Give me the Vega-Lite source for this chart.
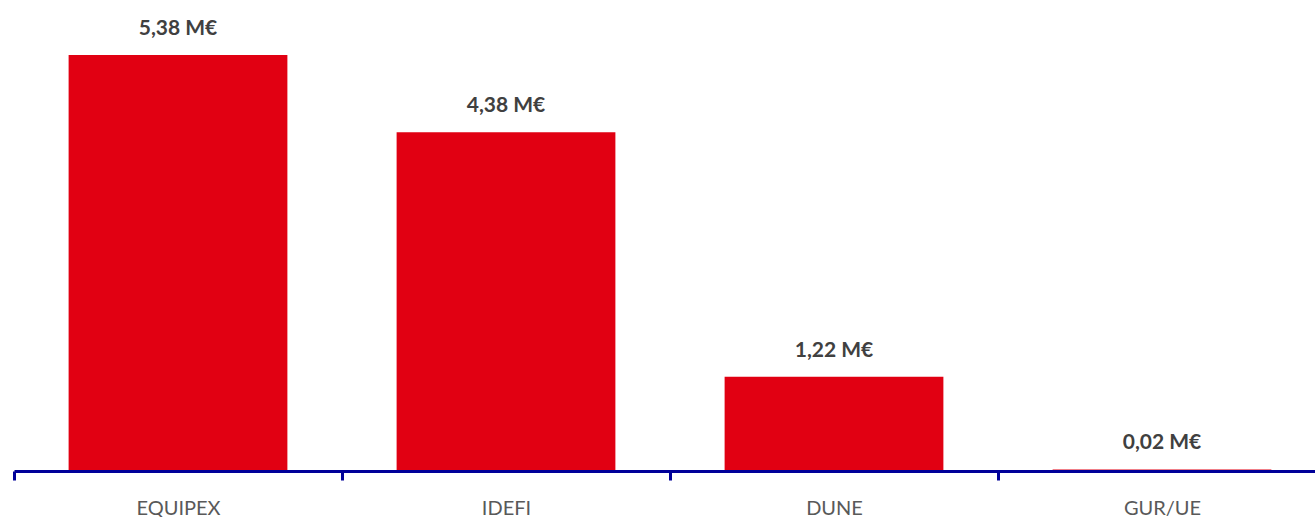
{
  "$schema": "https://vega.github.io/schema/vega-lite/v6.json",
  "width": 1301,
  "height": 471,
  "autosize": {"type": "none"},
  "padding": {"left": 14, "top": 0, "right": 0, "bottom": 46},
  "background": "white",
  "config": {"view": {"stroke": null}, "font": "Lato"},
  "data": {
    "values": [
      {"categorie": "EQUIPEX", "montant": 5.38, "label": "5,38 M€"},
      {"categorie": "IDEFI", "montant": 4.38, "label": "4,38 M€"},
      {"categorie": "DUNE", "montant": 1.22, "label": "1,22 M€"},
      {"categorie": "GUR/UE", "montant": 0.02, "label": "0,02 M€"}
    ]
  },
  "encoding": {
    "x": {
      "field": "categorie",
      "type": "nominal",
      "sort": null,
      "scale": {"range": [0, 1312], "paddingInner": 0, "paddingOuter": 0},
      "axis": {
        "title": null,
        "labelAngle": 0,
        "zindex": 1,
        "domainColor": "#000099",
        "domainWidth": 3,
        "tickColor": "#000099",
        "tickWidth": 3,
        "tickSize": 9,
        "tickBand": "extent",
        "labelFont": "Lato",
        "labelFontSize": 20,
        "labelColor": "#595959",
        "labelBaseline": "alphabetic",
        "labelPadding": 34
      }
    },
    "y": {
      "field": "montant",
      "type": "quantitative",
      "scale": {"domain": [0, 6.09]},
      "axis": null
    }
  },
  "layer": [
    {"mark": {"type": "bar", "color": "#E10012", "width": {"band": 0.667}}},
    {
      "mark": {"type": "text", "baseline": "alphabetic", "dy": -20, "fontWeight": "bold", "fontSize": 21, "color": "#404040", "font": "Lato"},
      "encoding": {"text": {"field": "label"}}
    }
  ]
}
